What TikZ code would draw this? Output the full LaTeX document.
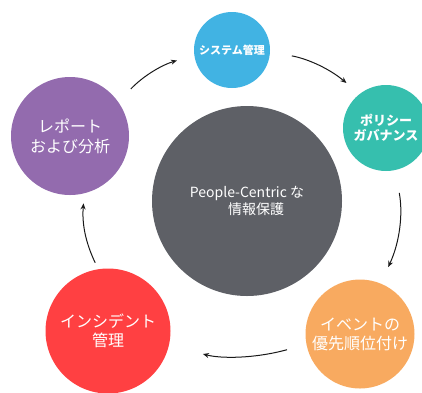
\documentclass[tikz,border=0pt]{standalone}
\usepackage{fontspec}
\setmainfont{Noto Sans CJK JP}
\usetikzlibrary{arrows.meta}

\definecolor{hubgray}{HTML}{5E6066}
\definecolor{sysblue}{HTML}{41B3E3}
\definecolor{policyteal}{HTML}{36BFAE}
\definecolor{eventorange}{HTML}{F8AA60}
\definecolor{incidentred}{HTML}{FF4042}
\definecolor{reportpurple}{HTML}{936BAE}

\begin{document}
\begin{tikzpicture}[x=1pt, y=1pt,
    stage/.style={circle, inner sep=0pt, text=white, align=center},
    flow/.style={-{Stealth[length=6pt, width=5pt]}, line width=1pt, black!90}]

            \useasboundingbox (0,0) rectangle (422,-392);

            % Circles
            \node[stage, fill=hubgray, minimum size=190pt,
                  font=\fontsize{14}{17}\selectfont] (hub) at (247,-201)
                  {People-Centric な\\\hspace*{18pt}情報保護};
            \node[stage, fill=sysblue, minimum size=76pt,
                  font=\bfseries\fontsize{11}{13}\selectfont] (system) at (232,-50) {システム管理};
            \node[stage, fill=policyteal, minimum size=86pt,
                  font=\bfseries\fontsize{13}{15}\selectfont] (policy) at (386,-128) {ポリシー\\ガバナンス};
            \node[stage, fill=eventorange, minimum size=109pt,
                  font=\fontsize{16}{19}\selectfont] (event) at (360,-334) {イベントの\\優先順位付け};
            \node[stage, fill=incidentred, minimum size=125pt,
                  font=\fontsize{16}{19}\selectfont] (incident) at (108,-331) {インシデント\\管理};
            \node[stage, fill=reportpurple, minimum size=118pt,
                  font=\fontsize{16}{20}\selectfont] (report) at (70,-136) {レポート\\および分析};

            % Arrows
            \draw[flow, shorten <=18pt, shorten >=18pt] (report.35) to[bend left=15] (system.188);
            \draw[flow, shorten <=22pt, shorten >=17pt] (system.-3) to[bend left=15] (policy.128);
            \draw[flow, shorten <=23pt, shorten >=18pt] (policy.-78) to[bend left=18] (event.68);
            \draw[flow, shorten <=20pt, shorten >=35pt] (event.191) to[bend left=15] (incident.-13);
            \draw[flow, shorten <=7pt, shorten >=10pt] (incident.99) to[bend left=15] (report.-76);

        \end{tikzpicture}
\end{document}
